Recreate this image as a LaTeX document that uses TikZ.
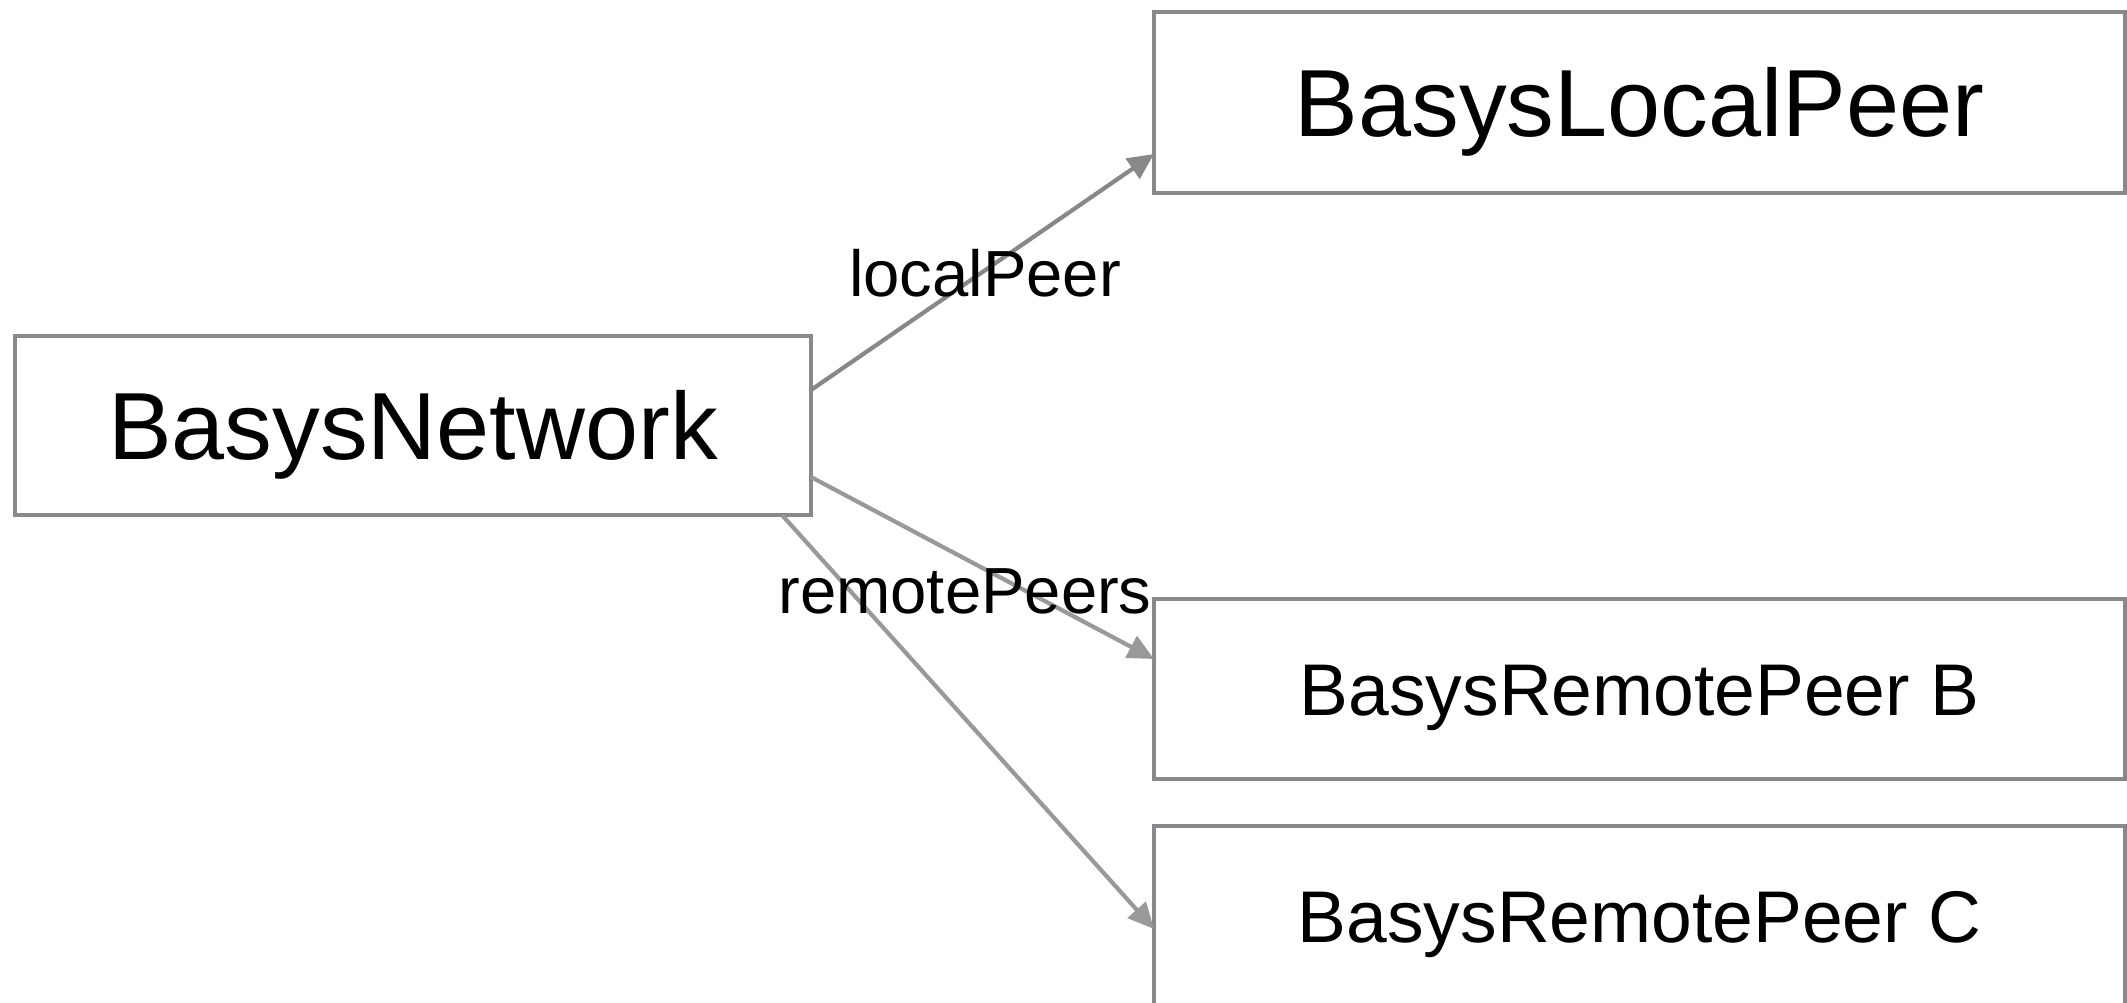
\documentclass[tikz,border=0pt]{standalone}
\usepackage{fontspec}
\setmainfont{Liberation Sans}
\usetikzlibrary{arrows.meta,calc}
\definecolor{boxgray}{HTML}{87898C}
\definecolor{lineA}{HTML}{888888}
\definecolor{lineB}{HTML}{999999}
\begin{document}
\begin{tikzpicture}[x=0.5pt,y=-0.5pt,
  box/.style={draw=boxgray, line width=2.4pt, fill=white, inner sep=0pt, outer sep=0pt, anchor=center, align=center},
  bigtext/.style={font=\fontsize{47.7pt}{57pt}\selectfont, text height=34pt, text depth=0pt},
  midtext/.style={font=\fontsize{36.6pt}{44pt}\selectfont, text height=26pt, text depth=0pt},
  lbl/.style={font=\fontsize{32.6pt}{40pt}\selectfont, inner sep=0pt, anchor=base},
  conn/.style={line width=2.1pt, -{Triangle[length=13pt,width=12pt]}},
]
\useasboundingbox (0,0) rectangle (2127,1002);

\node[box, bigtext, minimum width=398pt, minimum height=89.5pt] (net) at (413,425.5) {BasysNetwork};
\node[box, bigtext, minimum width=485.5pt, minimum height=90.5pt] (local) at (1639.5,102.5) {BasysLocalPeer};
\node[box, midtext, minimum width=485.5pt, minimum height=90pt] (rb) at (1639.5,689) {BasysRemotePeer B};
\node[box, midtext, minimum width=485.5pt, minimum height=90pt] (rc) at (1639.5,916) {BasysRemotePeer C};

\draw[conn, draw=lineA] ([yshift=17.75pt]net.east) -- ([yshift=-25.75pt]local.west);
\draw[conn, draw=lineB] ([yshift=-25.75pt]net.east) -- ([yshift=15pt]rb.west);
\draw[conn, draw=lineB] ([xshift=-14.5pt]net.south east) -- ([yshift=-6.5pt]rc.west);

\node[lbl] (lblLocal) at (985,296) {localPeer};
\node[lbl] (lblRemote) at (965,613) {remotePeers};
\end{tikzpicture}
\end{document}
